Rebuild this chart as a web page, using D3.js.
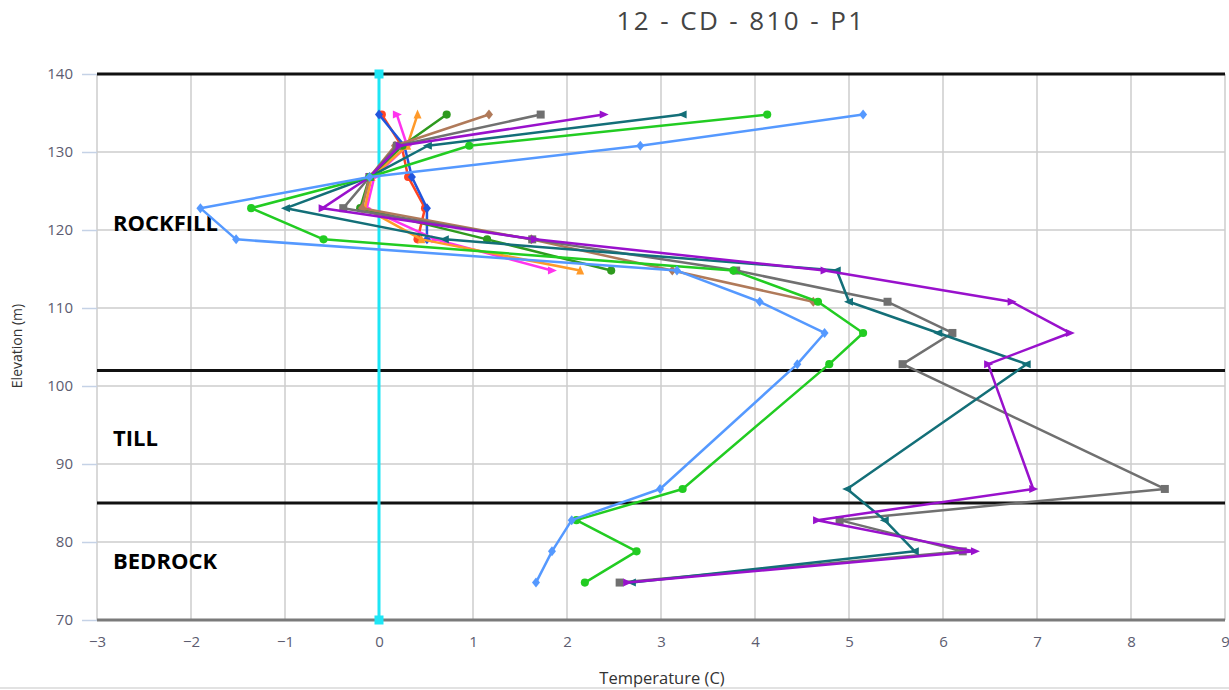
<!DOCTYPE html>
<html><head><meta charset="utf-8">
<script src="https://cdn.jsdelivr.net/npm/d3@7"></script>
<style>html,body{margin:0;padding:0;background:#fff;}svg{display:block;}</style>
</head><body><svg id="c" width="1229" height="690"></svg>
<script>
// ---- data ----
const elevations = [134.8,130.8,126.8,122.8,118.8,114.8,110.8,106.8,102.8,86.8,82.8,78.8,74.8];
const sRed       = [0.03,0.24,0.31,0.49,0.41,null,null,null,null,null,null,null,null];
const sBlue      = [0.0,0.27,0.35,0.51,0.51,null,null,null,null,null,null,null,null];
const sMagenta   = [0.19,0.30,-0.05,-0.13,0.60,1.84,null,null,null,null,null,null,null];
const sOrange    = [0.41,0.30,-0.08,-0.15,0.45,2.14,null,null,null,null,null,null,null];
const sDarkGreen = [0.72,0.25,-0.10,-0.20,1.15,2.47,null,null,null,null,null,null,null];
const sBrown     = [1.17,0.17,-0.10,-0.18,1.62,3.12,4.62,null,null,null,null,null,null];
const sGray      = [1.72,0.19,-0.10,-0.38,1.63,3.80,5.41,6.10,5.57,8.36,4.90,6.21,2.56];
const sTeal      = [3.23,0.52,-0.10,-0.99,0.70,4.87,5.00,5.95,6.89,4.98,5.38,5.70,2.69];
const sPurple    = [2.39,0.22,-0.10,-0.60,1.66,4.74,6.73,7.35,6.48,6.96,4.66,6.34,2.64];
const sGreen     = [4.13,0.96,-0.10,-1.36,-0.59,3.77,4.67,5.15,4.79,3.23,2.10,2.74,2.19];
const sLightBlue = [5.15,2.78,-0.10,-1.90,-1.52,3.17,4.05,4.74,4.45,2.99,2.05,1.84,1.67];

const xTicks = [-3,-2,-1,0,1,2,3,4,5,6,7,8,9];
const yTicks = [70,80,90,100,110,120,130,140];
const layerLines = [140,102,85];
const layerLabels = [{t:"ROCKFILL",e:120.6},{t:"TILL",e:93.1},{t:"BEDROCK",e:77.3}];
const titleText = "12 - CD - 810 - P1";

const series = [
  {v:sRed,c:"#ff4422",m:"circle"},
  {v:sBlue,c:"#2255dd",m:"diamond"},
  {v:sMagenta,c:"#ff33ee",m:"triRight"},
  {v:sOrange,c:"#ff9a2a",m:"triUp"},
  {v:sDarkGreen,c:"#2e9a1e",m:"circle"},
  {v:sBrown,c:"#b07a5a",m:"diamond"},
  {v:sGray,c:"#707070",m:"square"},
  {v:sTeal,c:"#136f78",m:"triLeft"},
  {v:sPurple,c:"#9911cc",m:"triRight"},
  {v:sGreen,c:"#22cc22",m:"circle"},
  {v:sLightBlue,c:"#5599ff",m:"diamond"}
];

// ---- layout ----
const svg = d3.select("#c");
const x = d3.scaleLinear().domain([-3,9]).range([97,1225]);
const y = d3.scaleLinear().domain([70,140]).range([620,74]);
const fontTick = "'Open Sans', 'DejaVu Sans', sans-serif";

// grid
const g = svg.append("g");
g.selectAll(".vg").data(xTicks).join("line")
  .attr("x1",d=>x(d)).attr("x2",d=>x(d)).attr("y1",y(140)).attr("y2",y(70))
  .attr("stroke","#cccccc").attr("stroke-width",1.5);
g.selectAll(".hg").data(yTicks.filter(d=>d>70&&d<140)).join("line")
  .attr("x1",x(-3)).attr("x2",x(9)).attr("y1",d=>y(d)).attr("y2",d=>y(d))
  .attr("stroke","#cccccc").attr("stroke-width",1.5);

// y axis
const yAxis = d3.axisLeft(y).tickValues(yTicks).tickSize(15).tickPadding(9).tickFormat(d3.format("d"));
const ya = svg.append("g").attr("transform",`translate(${x(-3)},0)`).call(yAxis);
ya.select(".domain").remove();
ya.selectAll(".tick line").attr("stroke","#c5d2e6").attr("stroke-width",1.5);
ya.selectAll(".tick text").attr("fill","#5c5c70").style("font-family",fontTick).style("font-size","15px");

// x axis
const xAxis = d3.axisBottom(x).tickValues(xTicks).tickSize(0).tickPadding(16)
  .tickFormat(d=> d<0 ? "\u2212"+Math.abs(d) : String(d));
const xa = svg.append("g").attr("transform",`translate(0,${y(70)})`).call(xAxis);
xa.select(".domain").remove();
xa.selectAll(".tick text").attr("fill","#5c5c70").style("font-family",fontTick).style("font-size","15px");

// bottom axis line
svg.append("line").attr("x1",x(-3)).attr("x2",x(9)).attr("y1",y(70)).attr("y2",y(70))
  .attr("stroke","#7a7a7a").attr("stroke-width",3);

// layer boundary lines
svg.selectAll(".lay").data(layerLines).join("line")
  .attr("x1",x(-3)).attr("x2",x(9)).attr("y1",d=>y(d)).attr("y2",d=>y(d))
  .attr("stroke","#111").attr("stroke-width",3);

// cyan zero line
svg.append("line").attr("x1",x(0)).attr("x2",x(0)).attr("y1",y(140)).attr("y2",y(70))
  .attr("stroke","#1ee6f5").attr("stroke-width",3);
svg.selectAll(".cz").data([140,70]).join("rect")
  .attr("x",x(0)-4.5).attr("y",d=>y(d)-4.5).attr("width",9).attr("height",9).attr("fill","#1ee6f5");

// layer labels
svg.selectAll(".ll").data(layerLabels).join("text")
  .attr("x",113).attr("y",d=>y(d.e)).text(d=>d.t)
  .style("font-family","'Open Sans', 'DejaVu Sans', sans-serif").style("font-weight","bold")
  .style("font-size","22px").attr("fill","#000").attr("dominant-baseline","middle");

// markers
function markerPath(type, s){
  switch(type){
    case "circle": return d3.symbol(d3.symbolCircle, 52)();
    case "square": return `M${-s},${-s}H${s}V${s}H${-s}Z`;
    case "diamond": return `M0,${-s-1}L${s},0L0,${s+1}L${-s},0Z`;
    case "triUp": return `M0,${-s-1}L${s},${s}L${-s},${s}Z`;
    case "triRight": return `M${s+1},0L${-s},${-s}L${-s},${s}Z`;
    case "triLeft": return `M${-s-1},0L${s},${-s}L${s},${s}Z`;
  }
}

const line = d3.line().defined(d=>d.t!=null).x(d=>x(d.t)).y(d=>y(d.e));
series.forEach(s=>{
  const pts = elevations.map((e,i)=>({e:e,t:s.v[i]}));
  svg.append("path").datum(pts).attr("d",line).attr("fill","none")
    .attr("stroke",s.c).attr("stroke-width",2.5).attr("stroke-linejoin","round");
  svg.append("g").selectAll("path").data(pts.filter(d=>d.t!=null)).join("path")
    .attr("transform",d=>`translate(${x(d.t)},${y(d.e)})`)
    .attr("d",markerPath(s.m,4)).attr("fill",s.c);
});

// titles
svg.append("text").attr("x",741).attr("y",30).attr("text-anchor","middle").text(titleText)
  .style("font-family","'Open Sans', 'DejaVu Sans', sans-serif").style("font-size","26px")
  .style("letter-spacing","2.4px").attr("fill","#444");
svg.append("text").attr("transform","translate(22,346) rotate(-90)").attr("text-anchor","middle")
  .text("Elevation (m)").style("font-family",fontTick).style("font-size","14px").attr("fill","#333");
svg.append("text").attr("x",662).attr("y",684).attr("text-anchor","middle")
  .text("Temperature (C)").style("font-family",fontTick).style("font-size","16.5px").attr("fill","#333");
svg.append("line").attr("x1",0).attr("x2",1229).attr("y1",688).attr("y2",688)
  .attr("stroke","#d8d8d8").attr("stroke-width",1.5);
</script></body></html>
